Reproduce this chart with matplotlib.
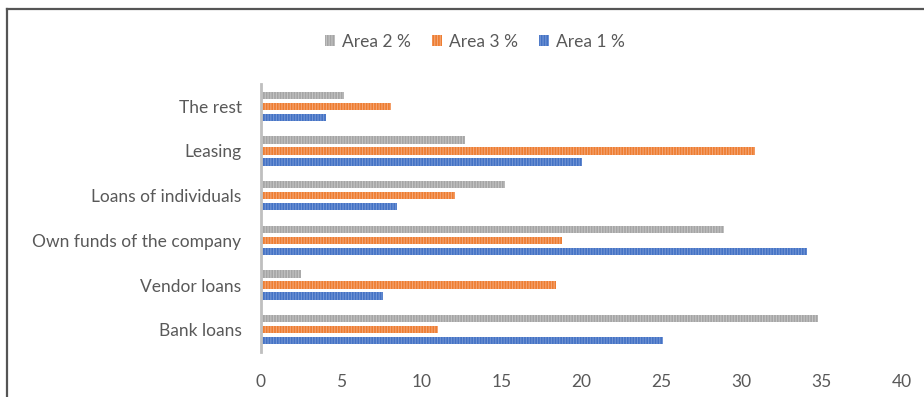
import matplotlib
matplotlib.use("Agg")
import matplotlib.pyplot as plt
import numpy as np
from matplotlib.lines import Line2D

categories = ["Bank loans", "Vendor loans", "Own funds of the company",
              "Loans of individuals", "Leasing", "The rest"]
area1 = [25.1, 7.6, 34.1, 8.5, 20.0, 4.05]
area2 = [34.75, 2.5, 28.9, 15.2, 12.7, 5.2]
area3 = [11.05, 18.4, 18.8, 12.1, 30.8, 8.1]
xticks = [0, 5, 10, 15, 20, 25, 30, 35, 40]

plt.rcParams['font.family'] = ['Lato', 'DejaVu Sans']
plt.rcParams['hatch.linewidth'] = 0.8

fig = plt.figure(figsize=(9.24, 3.97), dpi=100)
ax = fig.add_axes([261/924, 1-352/397, 641/924, (352-84)/397])

y = np.arange(len(categories))
h = 0.16
off = 0.245
series = [("Area 2 %", area2, "#A5A5A5", "#C4C4C4", off),
          ("Area 3 %", area3, "#ED7D31", "#F5A676", 0),
          ("Area 1 %", area1, "#4472C4", "#7396D6", -off)]
handles = []
for label, vals, c, hc, o in series:
    b = ax.barh(y + o, vals, height=h, color=c, edgecolor=hc, linewidth=0,
                hatch='||||||', label=label)
    handles.append(b)

ax.set_ylim(-0.5, 5.5)
ax.set_xlim(0, 40)
ax.set_xticks(xticks)
ax.set_yticks(y)
ax.set_yticklabels(categories)
for s in ["top", "right", "bottom"]:
    ax.spines[s].set_visible(False)
ax.spines["left"].set_color("#BFBFBF")
ax.spines["left"].set_linewidth(2)
ax.tick_params(axis='both', length=0, labelsize=12.5, colors="#595959")
ax.tick_params(axis='x', pad=16)
ax.tick_params(axis='y', pad=14)

leg = fig.legend(handles=handles, loc='center', bbox_to_anchor=(475/924, 1-42/397),
                 ncol=3, frameon=False, fontsize=12.5, handlelength=0.6, handleheight=0.6,
                 handletextpad=0.4, columnspacing=1.2, labelcolor="#595959")

# outer frame (top and left)
fig.add_artist(Line2D([7/924, 1], [1-8.5/397, 1-8.5/397], color="#555555", lw=1.6,
                      transform=fig.transFigure))
fig.add_artist(Line2D([7/924, 7/924], [0, 1-8.5/397], color="#555555", lw=1.6,
                      transform=fig.transFigure))

fig.savefig("out.png", dpi=100)
